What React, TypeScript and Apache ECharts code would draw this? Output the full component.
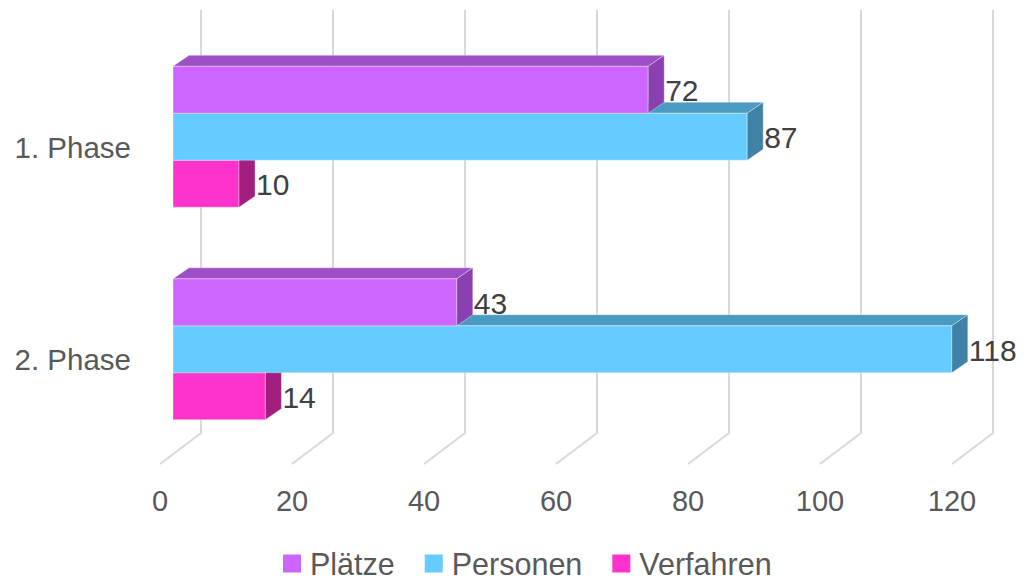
import React, { useEffect, useRef } from "react";
import * as echarts from "echarts";

const categories = ["1. Phase", "2. Phase"];
const seriesNames = ["Plätze", "Personen", "Verfahren"];
const plaetze = [72, 43];
const personen = [87, 118];
const verfahren = [10, 14];
const ticks = [0, 20, 40, 60, 80, 100, 120];

const FONT = "'Liberation Sans', Arial, sans-serif";
const faces = [
  { front: "#CC66FF", top: "#9C4FC6", side: "#8A40B0" },
  { front: "#66CCFF", top: "#4B9AC2", side: "#3F82A6" },
  { front: "#FF33CC", top: "#C4289E", side: "#A21F80" },
];
const DEPTH_X = 16;
const DEPTH_Y = -11;
const SHIFT_X = 13;
const SHIFT_Y = -10.5;
const BACK_X = 41;
const BACK_Y = -31;

function barSeries(name: string, values: number[], slot: number) {
  const f = faces[slot];
  return {
    name,
    type: "custom",
    z: 10 - slot,
    itemStyle: { color: f.front },
    data: values.map((v, i) => [v, i]),
    encode: { x: 0, y: 1 },
    renderItem: (params: any, api: any) => {
      const v = api.value(0);
      const c = api.value(1);
      const start = api.coord([0, c]);
      const end = api.coord([v, c]);
      const band = api.size([0, 1])[1];
      const h = band * 0.221;
      const x0 = start[0] + SHIFT_X;
      const x1 = end[0] + SHIFT_X;
      const yTop = start[1] + SHIFT_Y - 1.5 * h + slot * h;
      return {
        type: "group",
        children: [
          {
            type: "polygon",
            shape: {
              points: [
                [x0, yTop],
                [x1, yTop],
                [x1 + DEPTH_X, yTop + DEPTH_Y],
                [x0 + DEPTH_X, yTop + DEPTH_Y],
              ],
            },
            style: { fill: f.top, stroke: "rgba(255,255,255,0.35)", lineWidth: 1 },
          },
          {
            type: "rect",
            shape: { x: x0, y: yTop, width: x1 - x0, height: h },
            style: { fill: f.front, stroke: "rgba(255,255,255,0.35)", lineWidth: 1 },
          },
          {
            type: "polygon",
            shape: {
              points: [
                [x1, yTop],
                [x1 + DEPTH_X, yTop + DEPTH_Y],
                [x1 + DEPTH_X, yTop + h + DEPTH_Y],
                [x1, yTop + h],
              ],
            },
            style: { fill: f.side, stroke: "rgba(255,255,255,0.35)", lineWidth: 1 },
          },
          {
            type: "text",
            style: {
              x: x1 + DEPTH_X + 1,
              y: yTop + h / 2 + 1,
              text: String(v),
              align: "left",
              verticalAlign: "middle",
              fill: "#404040",
              font: `30px ${FONT}`,
            },
          },
        ],
      };
    },
  };
}

export default function App() {
  const ref = useRef<HTMLDivElement>(null);
  useEffect(() => {
    if (!ref.current) return;
    const chart = echarts.init(ref.current, undefined, { renderer: "svg" });
    chart.setOption({
      animation: false,
      backgroundColor: "#ffffff",
      color: faces.map((f) => f.front),
      textStyle: { fontFamily: FONT },
      grid: { left: 160, width: 792, top: 41, height: 425 },
      xAxis: {
        type: "value",
        min: 0,
        max: 120,
        interval: 20,
        axisLine: { show: false },
        axisTick: { show: false },
        splitLine: { show: false },
        axisLabel: { fontSize: 29, color: "#595959", margin: 20, fontFamily: FONT },
      },
      yAxis: {
        type: "category",
        inverse: true,
        data: categories,
        axisLine: { show: false },
        axisTick: { show: false },
        splitLine: { show: false },
        axisLabel: { fontSize: 29.5, color: "#595959", margin: 29, fontFamily: FONT },
      },
      legend: {
        data: seriesNames,
        top: 548,
        left: 283,
        padding: 0,
        icon: "rect",
        itemWidth: 18,
        itemHeight: 18,
        itemGap: 30,
        textStyle: {
          fontSize: 30.5,
          lineHeight: 30,
          color: "#595959",
          fontFamily: FONT,
          padding: [0, 0, 0, 4],
        },
      },
      series: [
        {
          type: "custom",
          name: "grid",
          z: 0,
          silent: true,
          data: ticks.map((t) => [t, 0]),
          encode: { x: 0, y: 1 },
          renderItem: (params: any, api: any) => {
            const x = api.coord([api.value(0), 0])[0];
            const cs = params.coordSys;
            const top = cs.y;
            const bottom = cs.y + cs.height;
            return {
              type: "polyline",
              shape: {
                points: [
                  [x + BACK_X, top + BACK_Y],
                  [x + BACK_X, bottom + BACK_Y - 2],
                  [x, bottom - 2],
                ],
              },
              style: { stroke: "#D9D9D9", lineWidth: 2, fill: "none" },
            };
          },
        },
        barSeries(seriesNames[0], plaetze, 0),
        barSeries(seriesNames[1], personen, 1),
        barSeries(seriesNames[2], verfahren, 2),
      ],
    });
    return () => chart.dispose();
  }, []);
  return (
    <div
      ref={ref}
      style={{ position: "fixed", left: 0, top: 0, width: 1032, height: 579 }}
    />
  );
}
